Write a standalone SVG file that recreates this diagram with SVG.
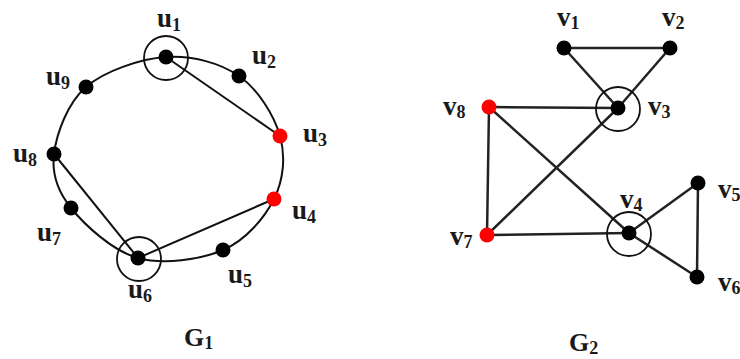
<svg xmlns="http://www.w3.org/2000/svg" width="740" height="359" viewBox="0 0 740 359">
<style>
.lbl{font-family:"Liberation Serif","Times New Roman",serif;font-weight:bold;font-size:27px;fill:#1a1a1a}
.sub{font-size:18px}
.cap{font-family:"Liberation Serif","Times New Roman",serif;font-weight:bold;font-size:26px;fill:#1a1a1a}
.e1{stroke:#111;stroke-width:2;fill:none}
.e2{stroke:#222;stroke-width:2.5;fill:none}
.dot{fill:#000}
.red{fill:#ff0000}
.ring{fill:none;stroke:#111;stroke-width:1.8}
</style>
<rect width="740" height="359" fill="#fff"/>
<g id="connectors">
<path class="e1" d="M166,57 C191.5,55.2 220,62.8 239,76 C258,89.2 274.2,115.5 280,136 C285.8,156.5 283.5,180 274,199 C264.5,218 245.7,240.2 223,250 C200.3,259.8 163.3,265 138,258 C112.7,251 85,225.3 71,208 C57,190.7 51.5,174.2 54,154 C56.5,133.8 67.3,103.2 86,87 C104.7,70.8 140.5,58.8 166,57 Z"/>
<line class="e1" x1="166" y1="57" x2="280" y2="136"/>
<line class="e1" x1="274" y1="199" x2="138" y2="258"/>
<line class="e1" x1="54" y1="154" x2="138" y2="258"/>
<line class="e2" x1="564" y1="48" x2="670" y2="48"/>
<line class="e2" x1="564" y1="48" x2="618" y2="108"/>
<line class="e2" x1="670" y1="48" x2="618" y2="108"/>
<line class="e2" x1="489" y1="107" x2="618" y2="108"/>
<line class="e2" x1="489" y1="107" x2="487" y2="235"/>
<line class="e2" x1="489" y1="107" x2="629" y2="233"/>
<line class="e2" x1="487" y1="235" x2="618" y2="108"/>
<line class="e2" x1="487" y1="235" x2="629" y2="233"/>
<line class="e2" x1="629" y1="233" x2="698" y2="183"/>
<line class="e2" x1="629" y1="233" x2="697" y2="277"/>
<line class="e2" x1="698" y1="183" x2="697" y2="277"/>
</g>
<g id="u1"><circle class="dot" cx="166" cy="57" r="7.5"/><circle class="ring" cx="166" cy="58" r="22"/><text class="lbl" x="157" y="27">u<tspan class="sub" dy="4">1</tspan></text></g>
<g id="u2"><circle class="dot" cx="239" cy="76" r="7.5"/><text class="lbl" x="252" y="64">u<tspan class="sub" dy="4">2</tspan></text></g>
<g id="u3"><circle class="red" cx="280" cy="136" r="7.5"/><text class="lbl" x="303" y="142">u<tspan class="sub" dy="4">3</tspan></text></g>
<g id="u4"><circle class="red" cx="274" cy="199" r="7.5"/><text class="lbl" x="292" y="219">u<tspan class="sub" dy="4">4</tspan></text></g>
<g id="u5"><circle class="dot" cx="223" cy="250" r="7.5"/><text class="lbl" x="228" y="283">u<tspan class="sub" dy="4">5</tspan></text></g>
<g id="u6"><circle class="dot" cx="138" cy="258" r="7.5"/><circle class="ring" cx="139" cy="259" r="22"/><text class="lbl" x="128" y="298">u<tspan class="sub" dy="4">6</tspan></text></g>
<g id="u7"><circle class="dot" cx="71" cy="208" r="7.5"/><text class="lbl" x="37" y="241">u<tspan class="sub" dy="4">7</tspan></text></g>
<g id="u8"><circle class="dot" cx="54" cy="154" r="7.5"/><text class="lbl" x="13" y="162">u<tspan class="sub" dy="4">8</tspan></text></g>
<g id="u9"><circle class="dot" cx="86" cy="87" r="7.5"/><text class="lbl" x="46" y="85">u<tspan class="sub" dy="4">9</tspan></text></g>
<g id="G1"><text class="cap" x="184" y="346">G<tspan class="sub" dy="3">1</tspan></text></g>
<g id="v1"><circle class="dot" cx="564" cy="48" r="7.5"/><text class="lbl" x="557" y="26">v<tspan class="sub" dy="3">1</tspan></text></g>
<g id="v2"><circle class="dot" cx="670" cy="48" r="7.5"/><text class="lbl" x="662" y="26">v<tspan class="sub" dy="3">2</tspan></text></g>
<g id="v3"><circle class="dot" cx="618" cy="108" r="7.5"/><circle class="ring" cx="618" cy="109" r="22"/><text class="lbl" x="648" y="115">v<tspan class="sub" dy="3">3</tspan></text></g>
<g id="v4"><circle class="dot" cx="629" cy="233" r="7.5"/><circle class="ring" cx="629" cy="234" r="22"/><text class="lbl" x="620" y="208">v<tspan class="sub" dy="3">4</tspan></text></g>
<g id="v5"><circle class="dot" cx="698" cy="183" r="7.5"/><text class="lbl" x="718" y="198">v<tspan class="sub" dy="3">5</tspan></text></g>
<g id="v6"><circle class="dot" cx="697" cy="277" r="7.5"/><text class="lbl" x="718" y="291">v<tspan class="sub" dy="3">6</tspan></text></g>
<g id="v7"><circle class="red" cx="487" cy="235" r="7.5"/><text class="lbl" x="450" y="245">v<tspan class="sub" dy="3">7</tspan></text></g>
<g id="v8"><circle class="red" cx="489" cy="107" r="7.5"/><text class="lbl" x="443" y="115">v<tspan class="sub" dy="3">8</tspan></text></g>
<g id="G2"><text class="cap" x="569" y="351">G<tspan class="sub" dy="3">2</tspan></text></g>
</svg>
